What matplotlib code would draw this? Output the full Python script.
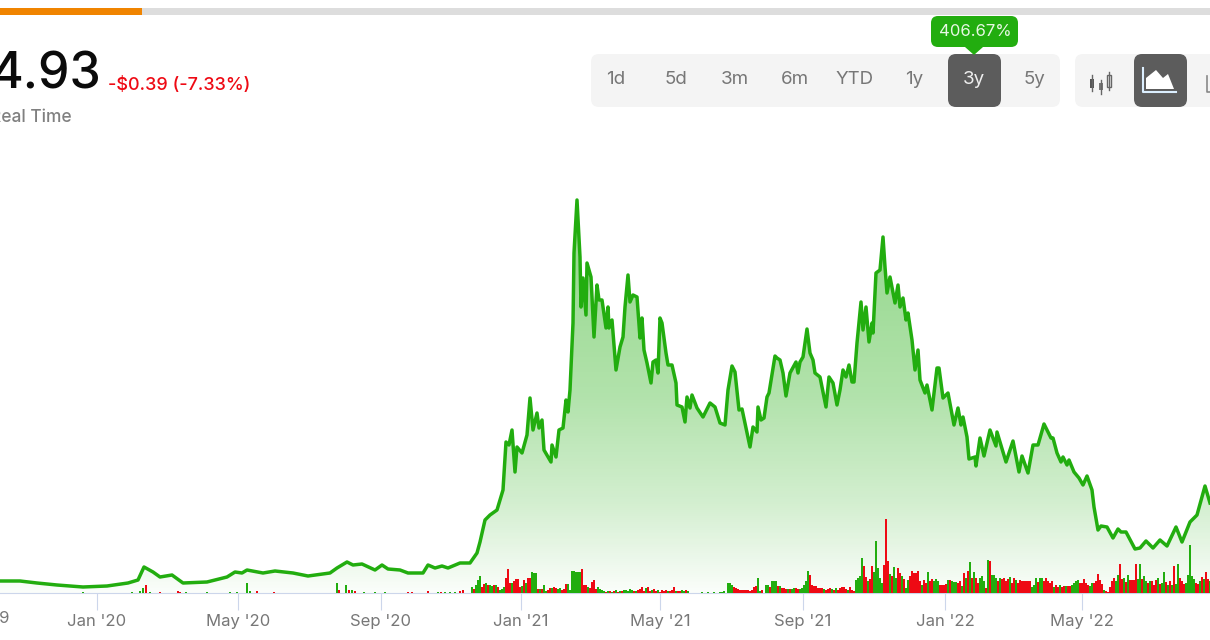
import numpy as np
import matplotlib
matplotlib.use("Agg")
import matplotlib.pyplot as plt
from matplotlib.patches import FancyBboxPatch, Rectangle, Polygon

plt.rcParams['font.family'] = ['Inter', 'DejaVu Sans']

# x axis unit is one chart step, price in dollars
session = [0, 20, 37, 57, 83, 107, 128, 138, 144, 153, 160, 172, 183, 207, 227, 235, 242, 247, 263, 275,
           293, 308, 330, 337, 347, 353, 362, 375, 382, 388, 400, 408, 423, 428, 435, 442, 448, 460, 470, 477,
           480, 485, 490, 497, 503, 506, 509, 512, 515, 517, 522, 527, 530, 533, 537, 539, 542, 544, 551, 552,
           556, 559, 563, 566, 568, 570, 573, 574, 577, 580, 581, 583, 586, 587, 591, 594, 597, 599, 602, 606,
           608, 609, 612, 616, 620, 623, 625, 628, 630, 633, 637, 640, 642, 644, 647, 651, 653, 656, 658, 660,
           662, 666, 668, 672, 676, 677, 682, 685, 687, 690, 692, 697, 703, 710, 715, 720, 725, 728, 732, 735,
           739, 742, 750, 753, 757, 758, 761, 764, 767, 769, 775, 777, 780, 783, 786, 790, 796, 798, 800, 803,
           807, 810, 813, 815, 820, 826, 829, 833, 837, 840, 843, 846, 849, 852, 854, 857, 861, 863, 866, 869,
           872, 873, 876, 880, 883, 885, 887, 890, 895, 898, 900, 903, 906, 908, 912, 915, 918, 920, 925, 927,
           932, 937, 939, 943, 948, 954, 958, 961, 963, 967, 969, 975, 976, 980, 984, 990, 996, 997, 1006, 1013,
           1019, 1022, 1028, 1033, 1038, 1044, 1051, 1053, 1057, 1061, 1063, 1067, 1069, 1074, 1079, 1083, 1087, 1092, 1094, 1098,
           1101, 1107, 1113, 1118, 1121, 1126, 1135, 1140, 1146, 1153, 1160, 1167, 1176, 1182, 1190, 1197, 1205, 1210]
price = [1.2, 1.2, 1.0, 0.8, 0.6, 0.7, 1.0, 1.3, 2.6, 2.1, 1.6, 1.8, 1.0, 1.1, 1.6, 2.1, 2.0, 2.3, 2.0, 2.2,
         2.0, 1.7, 2.0, 2.5, 3.1, 2.8, 2.9, 2.3, 2.8, 2.4, 2.3, 2.0, 2.0, 2.8, 2.5, 2.7, 2.5, 3.0, 3.0, 4.0,
         5.1, 7.3, 7.8, 8.3, 10.3, 15.1, 14.8, 16.3, 12.1, 14.6, 14.0, 15.8, 19.5, 16.3, 18.0, 16.5, 17.3, 14.3, 13.1, 14.8,
         13.6, 16.3, 16.5, 19.3, 18.1, 20.3, 27.0, 34.0, 39.3, 33.6, 28.6, 31.5, 27.8, 33.0, 31.6, 25.6, 30.8, 29.3, 29.3, 26.5,
         28.6, 26.5, 27.3, 22.3, 24.6, 25.6, 28.6, 31.8, 29.1, 29.8, 29.6, 25.5, 27.5, 24.3, 23.0, 21.0, 23.1, 23.3, 22.0, 27.5,
         27.0, 24.0, 22.8, 22.8, 21.0, 18.8, 18.6, 17.1, 19.6, 18.5, 19.8, 18.5, 17.6, 19.0, 18.6, 17.0, 16.8, 20.3, 22.7, 22.1,
         18.3, 18.4, 14.6, 16.6, 16.1, 18.6, 17.3, 17.5, 19.6, 20.0, 23.7, 23.5, 23.3, 22.0, 19.7, 22.0, 23.1, 22.0, 23.1, 23.6,
         26.4, 24.0, 23.3, 22.0, 21.6, 18.6, 21.6, 21.0, 18.8, 20.3, 22.3, 21.6, 22.8, 21.1, 21.1, 25.0, 29.1, 26.3, 28.6, 25.1,
         27.0, 26.0, 32.0, 32.3, 35.6, 32.6, 30.0, 31.6, 29.0, 30.8, 28.6, 29.5, 27.3, 28.0, 25.3, 22.3, 24.3, 21.3, 20.0, 20.8,
         18.3, 22.5, 22.5, 19.5, 20.0, 16.8, 18.5, 16.8, 17.6, 15.6, 13.4, 13.6, 12.7, 15.5, 13.7, 16.3, 14.7, 16.1, 13.1, 15.2,
         12.1, 13.7, 12.0, 14.8, 14.8, 16.9, 15.5, 15.5, 14.0, 13.1, 13.6, 12.8, 13.3, 12.1, 11.5, 10.8, 11.7, 10.3, 8.6, 6.3,
         6.7, 6.6, 5.5, 6.4, 6.1, 6.1, 4.4, 4.5, 5.2, 4.5, 5.3, 4.7, 6.6, 5.1, 7.1, 7.8, 10.7, 9.0]

tick_session = [97, 238, 381, 521, 660, 803, 945, 1082]
tick_labels = ["Jan '20", "May '20", "Sep '20", "Jan '21", "May '21", "Sep '21", "Jan '22", "May '22"]

# volume, minus means a down day
early_session = [83, 132, 140, 143, 146, 150, 160, 178, 180, 186, 207, 230, 237, 247, 250, 257, 274,
                 337, 339, 346, 349, 352, 355, 364, 375, 385, 408, 412, 428, 438, 441, 445, 450, 455, 460, 463]
early_volume = [1, 1, 2, 5, -8, 1, -1, -2, -1, 1, 1, 1, 1, 10, 2, -2, -1,
                10, -3, 8, -3, 3, -2, 1, 1, 1, -1, -1, -2, 1, -1, 1, 1, 1, -2, -3]
volume_start = 472
volume = [6, -4, 8, 13, 17, -6, -9, 10, -8, 8,
          7, -8, 8, -6, 3, 4, 6, -15, -24, -10, 10, -12, -14, -14,
          -6, 7, -13, 10, -15, -15, 21, 20, 20, -4, 4, -4, 8, 2, -3, -5, 5, -6, -5, 4, 5, -3, -4, -9, 9, 3,
          22, 22, 21, 21, 21, -24, -8, -8, 6, -5, -11, -13, -4, 6, 4, 3, 2,
          -1, 2, -2, 1, -2, 3, -1, 2, -2, 3, 3, 2, 4, 3, -2, 2, -3, -4, -6, -2, 5, -6, -2, 3, -4, -2, 3, -1, -3, -2, -3, 2, -2, -3, -6, 2, -2, -2, 3, 2, -3, 2,
          0, 0, 0, 0, 0, 0, 1, 0, 0, 1, 0, 0, 1, 0, 0, 1, 1, 2, 0,
          10, 10, 8, -6, -5, -4, -3, -3, -3, -3, -3, -2, -3, -6, -7, 15, 2, -3, 0, 8, 8, -6, 12, 12, 12, -7, 7,
          -5, -5, -4, 4, -4, 4, 5, -5, -4, 4, 5, 8, 12, 22, -18, -8, -7, -7, -5, -5, -5, 4, -3, -4, -5, 4, -3, 5, -3,
          -5, -6, -6, -4, 3, -6, -3, -2, 13, 15, 17, 35, -27, -16, 12, -14, -27, 21, 52, 25, 15, 10, -28, -74, -32, 19, -17, 26, 15, -25, -20, 17, -14, 5, 13,
          -17, -22, -20, -20, -22, -12, 8, -13, -10, 21, -12, -14, 12, 14, 12, -8, -8, -8, -9, 13, -13, 12, 11, 11, -10, -12, 7, -20, 15, -22, 31, -15, 21, -15, -10, 15, 17, 12, -5, 33, -32,
          18, 18, 15, -12, 15, -14, -15, -12, -14, 16, -10, -15, 13, -10, -13, -12, -12, -12, -12, -12, 6, 8, 15, -11, 15, 15, -12, -15, -12, -10, -12, 6, -8, -6, 8, -6, -7, 7, -7, -7,
          8, 10, 12, 13, -10, -10, -14, -10, -8, 7, 10, -10, -12, -19, -13, -9, 3, -2, -1, -6, -12, -15, 12, 18, -29, -14, 15, -11, 18, -13, -13, -13, -29, 14, 29, -14, 17, 12, -10, 12,
          -12, -8, -13, 15, -9, 10, 21, -11, 8, -12, 8, -27, 9, 29, -15, -12, -9, 10, 18, 48, 17, 14, -10, -9, 12, -16, 14, -21, -14, 12]

buttons = ['1d', '5d', '3m', '6m', 'YTD', '1y', '3y', '5y']
button_x = [616, 676, 735, 795, 855, 914, 974, 1034]

GREEN = '#22ad0f'
RED = '#ee0a14'
AXIS = '#ccd6eb'

fig = plt.figure(figsize=(12.1, 6.4), dpi=100)
ax = fig.add_axes([0, 47/640, 1, 453/640])
ax.set_xlim(0, 1210)
ax.set_ylim(0, 45.3)
ax.patch.set_alpha(0)

# area under the line, gradient clipped to the shape
poly = ax.fill_between(session, price, 0, color='none')
grad = np.zeros((256, 2, 4))
grad[:, :, 0] = 0.13
grad[:, :, 1] = 0.68
grad[:, :, 2] = 0.06
grad[:, :, 3] = np.interp(np.linspace(1, 0, 256), [0, 0.23, 0.5, 1], [0.02, 0.2, 0.35, 0.5])[:, None]
im = ax.imshow(grad, extent=(0, 1210, 0, max(price)), aspect='auto', zorder=1)
im.set_clip_path(poly.get_paths()[0], transform=ax.transData)
ax.set_xlim(0, 1210)
ax.set_ylim(0, 45.3)

ax.plot(session, price, color=GREEN, lw=2.5, zorder=3, solid_joinstyle='round')

for s in ['top', 'left', 'right']:
    ax.spines[s].set_visible(False)
ax.spines['bottom'].set_color(AXIS)
ax.yaxis.set_visible(False)
ax.set_xticks(tick_session)
ax.set_xticklabels(tick_labels, fontsize=12, color='#777777')
ax.tick_params(axis='x', length=12, color=AXIS, pad=3)

# volume bars on their own scale
vol = ax.twinx()
vol.set_ylim(0, 453)
vol.yaxis.set_visible(False)
vol.patch.set_alpha(0)
for s in vol.spines.values():
    s.set_visible(False)
early = np.array(early_volume)
vol.bar(early_session, np.abs(early), width=2, color=[GREEN if v > 0 else RED for v in early])
main = np.array(volume)
main_x = volume_start + 2 * np.arange(len(main))
vol.bar(main_x, np.abs(main), width=2.2, color=[GREEN if v > 0 else RED for v in main])

# page furniture around the chart, in pixels
ui = fig.add_axes([0, 0, 1, 1])
ui.set_xlim(0, 1210)
ui.set_ylim(640, 0)
ui.axis('off')
ui.patch.set_alpha(0)


def box(x0, y0, x1, y1, col, r=6):
    ui.add_patch(FancyBboxPatch((x0 + r, y0 + r), x1 - x0 - 2*r, y1 - y0 - 2*r,
                                boxstyle='round,pad=%d,rounding_size=%d' % (r, r), fc=col, ec='none'))


ui.add_patch(Rectangle((0, 8), 1210, 7, fc='#dddddd', ec='none'))
ui.add_patch(Rectangle((0, 8), 142, 7, fc='#f08400', ec='none'))

ui.text(101, 75, '4.93', fontsize=36, color='#0b0b0b', ha='right', va='center', fontweight='medium')
ui.text(108, 86, '-$0.39 (-7.33%)', fontsize=13, color=RED, ha='left', va='center', fontweight='medium')
ui.text(72, 118, 'Real Time', fontsize=12.5, color='#808080', ha='right', va='center', fontweight='medium')
ui.text(9, 619, "Sep '19", fontsize=12, color='#777777', ha='right', va='center')

box(591, 54, 1060, 107, '#f4f4f4', 8)
box(948, 54, 1001, 107, '#5c5c5c', 8)
box(1075, 54, 1240, 107, '#f4f4f4', 8)
box(1134, 54, 1187, 107, '#5c5c5c', 8)
for b, x in zip(buttons, button_x):
    ui.text(x, 79, b, fontsize=13.5, ha='center', va='center',
            color='#eeeeee' if b == '3y' else '#777777')

box(931, 16, 1018, 47, GREEN, 7)
ui.add_patch(Polygon([[965, 47], [983, 47], [974, 55]], fc=GREEN, ec='none'))
ui.text(975, 31, '406.67%', fontsize=12, color='#e8f8e4', ha='center', va='center')

# candle icon
for x, y0, y1 in [(1092, 75, 91), (1101, 80, 94), (1109, 72, 90)]:
    ui.plot([x, x], [y0, y1], color='#666666', lw=1)
ui.add_patch(Rectangle((1090, 79), 4, 9, fc='#555555', ec='none'))
ui.add_patch(Rectangle((1099, 83), 4, 7, fc='#777777', ec='none'))
ui.add_patch(Rectangle((1107, 75), 4, 12, fc='#f4f4f4', ec='#666666', lw=1))

# area icon
ui.add_patch(Polygon([[1146, 89], [1146, 78], [1156, 70], [1163, 78], [1168, 74], [1174, 89]], fc='#ffffff', ec='none'))
ui.plot([1143, 1143, 1176], [68, 92, 92], color='#dcefff', lw=1.5)

# edge of the line icon
ui.plot([1207, 1207, 1210], [76, 92, 92], color='#888888', lw=1.2)

fig.savefig('out.png', dpi=100)
